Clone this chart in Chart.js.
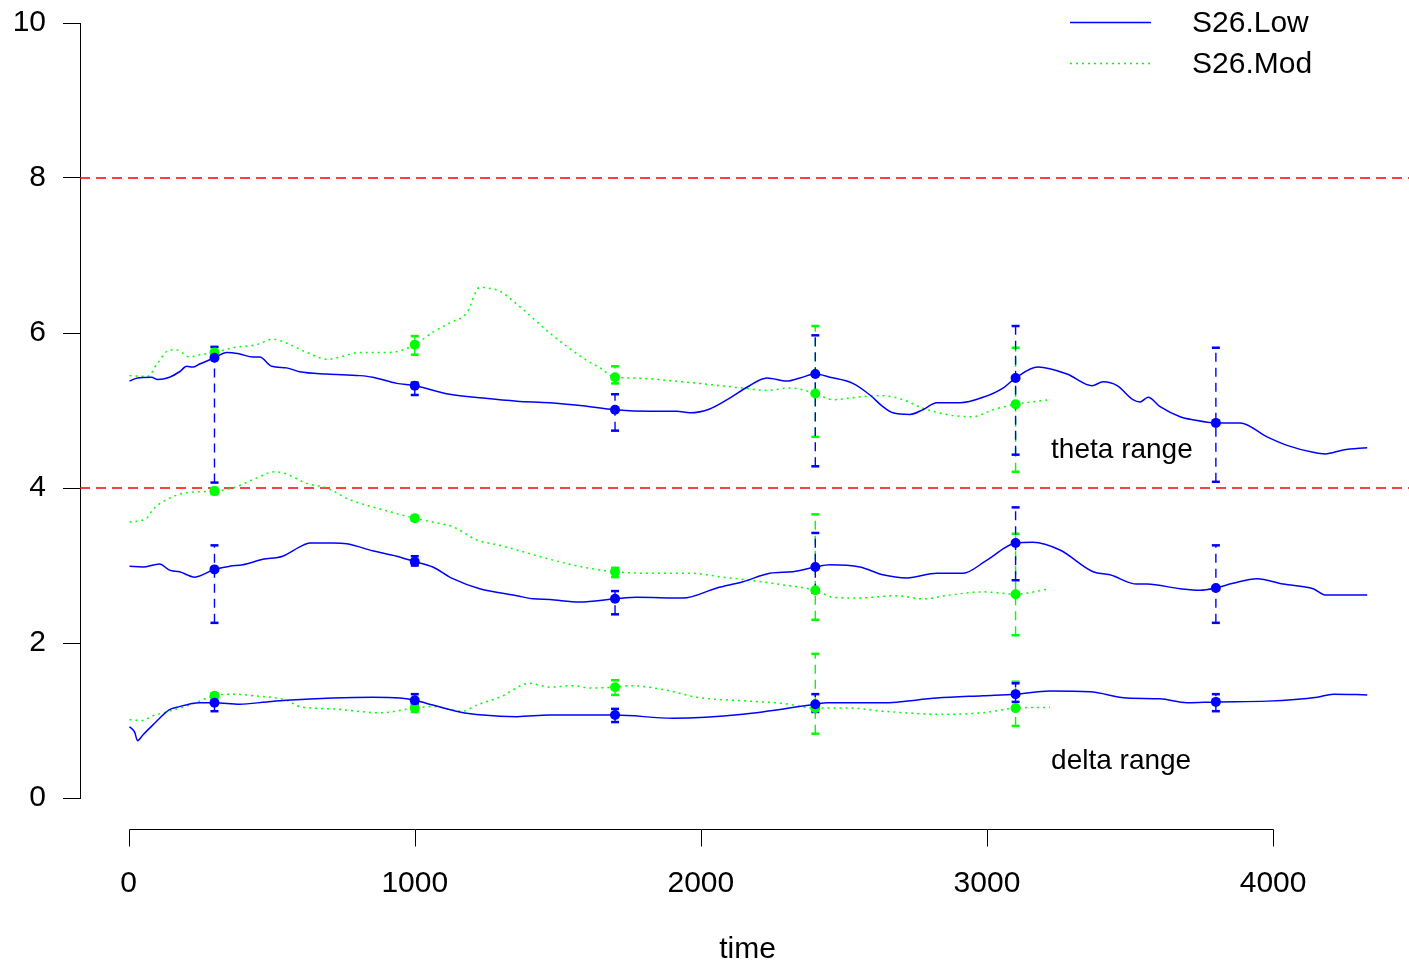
<!DOCTYPE html>
<html><head><meta charset="utf-8">
<script src="https://cdn.jsdelivr.net/npm/chart.js@4/dist/chart.umd.min.js"></script>
<style>html,body{margin:0;padding:0;background:#fff;overflow:hidden}#wrap{width:1409px;height:964px;position:relative}</style>
</head><body><div id="wrap"><canvas id="c"></canvas></div>
<script>
// ---- data ----
const thetaLowT = [3,31,80,101,143,178,203,224,248,300,343,388,434,458,500,552,598,692,808,853,937,1000,1122,1238,1357,1472,1587,1700,1822,1916,1962,2031,2101,2161,2231,2301,2346,2400,2451,2531,2591,2636,2671,2731,2776,2825,2906,2986,3056,3100,3178,3280,3367,3406,3455,3510,3535,3563,3605,3675,3720,3800,3885,3979,4049,4140,4182,4245,4329];
const thetaLowV = [5.38,5.42,5.43,5.40,5.43,5.50,5.57,5.56,5.60,5.68,5.75,5.73,5.69,5.69,5.57,5.55,5.50,5.47,5.45,5.43,5.35,5.32,5.21,5.16,5.12,5.10,5.06,5.01,4.99,4.99,4.97,5.02,5.16,5.30,5.42,5.38,5.42,5.47,5.43,5.35,5.20,5.05,4.97,4.95,5.01,5.10,5.10,5.17,5.29,5.42,5.56,5.47,5.32,5.37,5.32,5.14,5.11,5.17,5.05,4.92,4.88,4.84,4.84,4.66,4.55,4.46,4.44,4.49,4.52];
const thetaModT = [3,66,101,143,168,213,248,300,364,448,503,552,622,696,748,808,913,1000,1063,1122,1182,1227,1255,1297,1367,1472,1587,1647,1700,1762,1937,2147,2231,2311,2400,2462,2566,2636,2706,2776,2871,2951,3021,3100,3220];
const thetaModV = [5.45,5.44,5.61,5.78,5.78,5.69,5.72,5.75,5.81,5.85,5.92,5.87,5.75,5.66,5.70,5.75,5.75,5.85,6.01,6.13,6.26,6.59,6.58,6.54,6.34,6.00,5.68,5.55,5.43,5.42,5.37,5.29,5.26,5.29,5.22,5.14,5.18,5.19,5.14,5.03,4.94,4.92,5.01,5.08,5.14];
const midLowT = [3,49,108,143,178,231,300,353,399,469,538,598,633,713,762,853,937,1000,1063,1133,1227,1357,1413,1472,1577,1700,1776,1937,2056,2147,2241,2322,2400,2451,2556,2636,2720,2825,2916,3000,3100,3161,3255,3371,3430,3524,3559,3675,3745,3800,3860,3944,4035,4140,4182,4329];
const midLowV = [2.99,2.98,3.02,2.94,2.92,2.85,2.95,2.99,3.01,3.08,3.12,3.24,3.29,3.29,3.28,3.19,3.12,3.05,2.98,2.83,2.70,2.61,2.57,2.56,2.53,2.57,2.59,2.58,2.71,2.79,2.90,2.92,2.98,3.01,2.98,2.88,2.84,2.90,2.90,3.07,3.29,3.30,3.20,2.92,2.88,2.76,2.76,2.70,2.68,2.71,2.77,2.83,2.76,2.70,2.62,2.62];
const midModT = [3,63,84,133,203,300,364,448,510,552,622,692,773,888,1000,1063,1133,1217,1297,1357,1472,1587,1700,1822,1962,2077,2171,2287,2400,2462,2545,2685,2776,2871,2986,3100,3220];
const midModV = [3.56,3.61,3.72,3.85,3.94,3.96,4.00,4.13,4.21,4.18,4.06,4.00,3.85,3.72,3.61,3.56,3.50,3.33,3.26,3.20,3.08,2.98,2.92,2.90,2.90,2.85,2.81,2.75,2.68,2.59,2.58,2.61,2.57,2.62,2.66,2.63,2.70];
const deltaLowT = [3,21,31,49,84,143,168,248,300,388,483,552,713,853,948,1000,1063,1157,1238,1357,1472,1700,1902,2147,2400,2441,2636,2825,2986,3100,3220,3360,3490,3605,3699,3800,3979,4154,4210,4329];
const deltaLowV = [0.92,0.85,0.74,0.81,0.94,1.14,1.17,1.23,1.23,1.21,1.24,1.26,1.29,1.30,1.29,1.26,1.20,1.11,1.07,1.05,1.07,1.07,1.03,1.08,1.21,1.23,1.23,1.29,1.32,1.34,1.38,1.37,1.29,1.28,1.23,1.24,1.25,1.30,1.34,1.33];
const deltaModT = [3,49,84,143,213,300,364,434,552,598,713,878,1000,1063,1168,1217,1297,1402,1472,1552,1612,1700,1752,1881,1986,2171,2287,2400,2521,2636,2846,2986,3100,3220];
const deltaModV = [1.01,1.00,1.06,1.12,1.20,1.32,1.34,1.32,1.26,1.18,1.15,1.10,1.16,1.18,1.12,1.20,1.30,1.48,1.43,1.45,1.42,1.43,1.45,1.39,1.30,1.25,1.22,1.16,1.16,1.12,1.08,1.10,1.16,1.17];

// error-bar summaries
const errLowT = [300,1000,1700,2400,3100,3800];
const errModT = [300,1000,1700,2400,3100];
const thetaLowMean = [5.68,5.32,5.01,5.47,5.42,4.84];
const thetaLowHi   = [5.82,5.36,5.21,5.97,6.09,5.81];
const thetaLowLo   = [4.07,5.20,4.74,4.28,4.43,4.08];
const thetaModMean = [5.75,5.85,5.43,5.22,5.08];
const thetaModHi   = [5.82,5.96,5.57,6.09,5.81];
const thetaModLo   = [5.70,5.72,5.35,4.66,4.21];
const midLowMean = [2.95,3.05,2.57,2.98,3.29,2.71];
const midLowHi   = [3.26,3.12,2.67,3.42,3.75,3.26];
const midLowLo   = [2.26,3.00,2.37,2.65,2.81,2.26];
const midModMean = [3.96,3.61,2.92,2.68,2.63];
const midModHi   = [4.00,3.64,2.97,3.66,3.41];
const midModLo   = [3.92,3.58,2.85,2.30,2.10];
const deltaLowMean = [1.23,1.26,1.07,1.21,1.34,1.24];
const deltaLowHi   = [1.33,1.34,1.15,1.34,1.48,1.34];
const deltaLowLo   = [1.12,1.21,0.98,1.11,1.24,1.12];
const deltaModMean = [1.32,1.16,1.43,1.16,1.16];
const deltaModHi   = [1.35,1.21,1.52,1.86,1.50];
const deltaModLo   = [1.28,1.11,1.33,0.83,0.93];

const refLevels = [4, 8];
const xTicks = [0,1000,2000,3000,4000];
const yTicks = [0,2,4,6,8,10];
const seriesNames = ['S26.Low','S26.Mod'];
const xTitle = 'time';
const notes = [{text:'theta range', x:3224, y:4.49},{text:'delta range', x:3224, y:0.48}];

// ---- build ----
const BLUE='#0000ff', GREEN='#00ff00', RED='#ff0000';
const FONT='"Liberation Sans", Arial, Helvetica, sans-serif';
const XMIN=-170, XMAX=4475;
const pts=(t,v)=>t.map((x,i)=>({x:x,y:v[i]}));
function bars(t,lo,hi){const d=[];t.forEach((x,i)=>{d.push({x:x,y:lo[i]},{x:x,y:hi[i]},{x:x,y:null});});return d;}

const markers=[], errs=[], lines=[];
function addGroup(color, isLow, lt, lv, et, mean, lo, hi){
  markers.push({type:'line',data:pts(et,mean),showLine:false,pointStyle:'circle',pointRadius:5,pointBackgroundColor:color,pointBorderColor:color,pointBorderWidth:0});
  errs.push({type:'line',data:bars(et,lo,hi),borderColor:color,borderWidth:1.4,borderDash:[9,6],spanGaps:false,pointStyle:'line',pointRadius:4,pointBorderColor:color,pointBorderWidth:2.5});
  lines.push({type:'line',data:pts(lt,lv),borderColor:color,borderWidth:1.5,borderDash:isLow?[]:[2,4],pointRadius:0,cubicInterpolationMode:'monotone'});
}
addGroup(BLUE,true,thetaLowT,thetaLowV,errLowT,thetaLowMean,thetaLowLo,thetaLowHi);
addGroup(BLUE,true,midLowT,midLowV,errLowT,midLowMean,midLowLo,midLowHi);
addGroup(BLUE,true,deltaLowT,deltaLowV,errLowT,deltaLowMean,deltaLowLo,deltaLowHi);
addGroup(GREEN,false,thetaModT,thetaModV,errModT,thetaModMean,thetaModLo,thetaModHi);
addGroup(GREEN,false,midModT,midModV,errModT,midModMean,midModLo,midModHi);
addGroup(GREEN,false,deltaModT,deltaModV,errModT,deltaModMean,deltaModLo,deltaModHi);
const refs = refLevels.map(v=>({type:'line',data:[{x:XMIN,y:v},{x:XMAX,y:v}],borderColor:RED,borderWidth:1.5,borderDash:[10,6],pointRadius:0}));

const datasets=[...markers,...errs,...lines,...refs];

const deco={id:'deco',afterDraw(chart){
  const ctx=chart.ctx, x=chart.scales.x, y=chart.scales.y, a=chart.chartArea;
  ctx.save();
  // detached x axis
  const y0=Math.round(y.getPixelForValue(-0.4))+0.5;
  ctx.strokeStyle='#000'; ctx.lineWidth=1; ctx.setLineDash([]);
  ctx.beginPath();
  ctx.moveTo(Math.round(x.getPixelForValue(xTicks[0]))+0.5,y0);
  ctx.lineTo(Math.round(x.getPixelForValue(xTicks[xTicks.length-1]))+0.5,y0);
  xTicks.forEach(v=>{const px=Math.round(x.getPixelForValue(v))+0.5;ctx.moveTo(px,y0);ctx.lineTo(px,y0+17);});
  ctx.stroke();
  ctx.font='30px '+FONT; ctx.fillStyle='#000'; ctx.textAlign='center'; ctx.textBaseline='middle';
  xTicks.forEach(v=>ctx.fillText(String(v),x.getPixelForValue(v),y0+54));
  ctx.fillText(xTitle,(a.left+a.right)/2+3,950);
  // notes
  ctx.font='28px '+FONT; ctx.textAlign='left';
  notes.forEach(n=>ctx.fillText(n.text,x.getPixelForValue(n.x),y.getPixelForValue(n.y)));
  // legend
  ctx.font='30px '+FONT;
  const lx0=1070,lx1=1151,tx=1192;
  [[BLUE,[],22],[GREEN,[2,4],63]].forEach((e,i)=>{
    ctx.strokeStyle=e[0]; ctx.lineWidth=1.4; ctx.setLineDash(e[1]);
    ctx.beginPath(); ctx.moveTo(lx0,e[2]+0.5); ctx.lineTo(lx1,e[2]+0.5); ctx.stroke();
    ctx.setLineDash([]);
    ctx.fillStyle='#000'; ctx.fillText(seriesNames[i],tx,e[2]+2);
  });
  ctx.restore();
}};

new Chart(document.getElementById('c'),{
  type:'line',
  data:{datasets:datasets},
  options:{
    responsive:true, maintainAspectRatio:false, animation:false,
    layout:{autoPadding:false,padding:{top:23,bottom:166,left:0,right:0}},
    plugins:{legend:{display:false},tooltip:{enabled:false}},
    scales:{
      x:{type:'linear',min:XMIN,max:XMAX,display:false,
        afterFit:(s)=>{s.paddingLeft=0;s.paddingRight=0;s.paddingTop=0;s.paddingBottom=0;s.height=0;}},
      y:{type:'linear',min:0,max:10,
        afterFit:(s)=>{s.width=80;s.paddingTop=0;s.paddingBottom=0;},
        afterBuildTicks:(s)=>{s.ticks=yTicks.map(v=>({value:v}));},
        ticks:{color:'#000',padding:17,font:{size:30,family:FONT},callback:(v)=>String(v)},
        grid:{drawOnChartArea:false,drawTicks:true,tickLength:17,color:'#000',lineWidth:1},
        border:{display:true,color:'#000',width:1}}
    }
  },
  plugins:[deco]
});
</script></body></html>
